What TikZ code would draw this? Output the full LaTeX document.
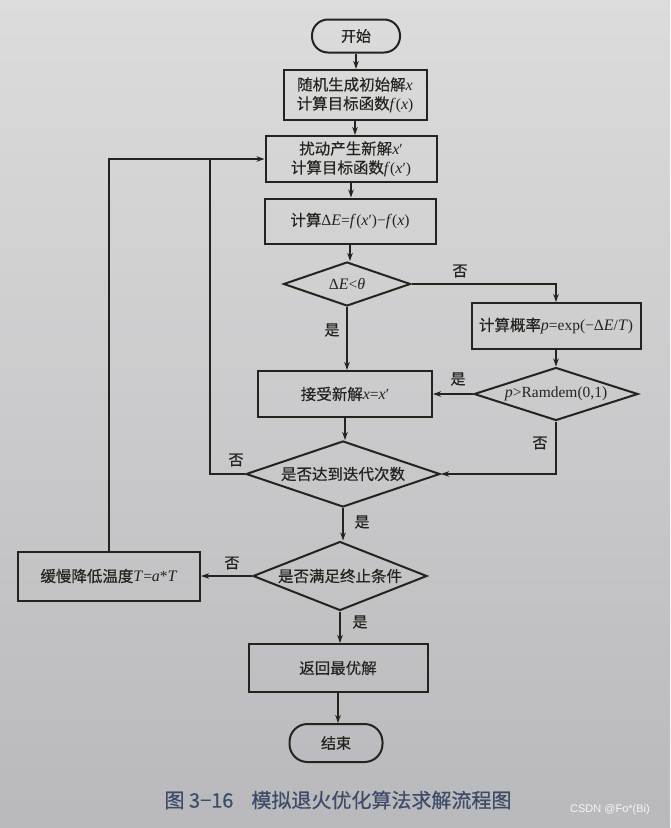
\documentclass[tikz,border=0pt]{standalone}
\usepackage{fontspec}
\setmainfont{Liberation Serif}
\newfontfamily\cjk[FakeBold=0.4]{Noto Sans CJK SC}
\newfontfamily\capfont[FakeBold=0.6]{Noto Sans CJK SC}
\newfontfamily\latsans{Liberation Sans}
\usetikzlibrary{shapes.geometric,arrows.meta}
\newcommand{\zh}[1]{{\cjk #1}}
\newcommand{\vi}[1]{{\fontsize{16}{19}\selectfont\textit{#1}}}
\definecolor{ink}{HTML}{24241F}
\definecolor{papertop}{HTML}{DCDCDC}
\definecolor{paperbot}{HTML}{B9B9BD}
\definecolor{capc}{HTML}{3E4C68}
\tikzset{
  box/.style={draw=ink, line width=2pt, rectangle, inner sep=0pt, align=center,
    text=ink, font=\fontsize{15.5}{19}\selectfont},
  dia/.style={draw=ink, line width=2pt, diamond, inner sep=0pt, align=center,
    text=ink, font=\fontsize{15.5}{19}\selectfont},
  term/.style={draw=ink, line width=2pt, rectangle, rounded corners=16pt, inner sep=0pt,
    text=ink, font=\fontsize{15}{19}\selectfont},
  conn/.style={draw=ink, line width=1.3pt, -{Stealth[length=8pt,width=5.5pt,inset=2.5pt]}},
  plain/.style={draw=ink, line width=1.3pt},
  lbl/.style={text=ink, font=\cjk\fontsize{15}{15}\selectfont}
}
\begin{document}
\begin{tikzpicture}[x=1pt,y=-1pt]
\shade[top color=papertop, bottom color=paperbot] (0,0) rectangle (670,828);
\useasboundingbox (0,0) rectangle (670,828);

\node[term, minimum width=88pt, minimum height=33pt] (start) at (356,36) {\zh{开始}};
\node[box, minimum width=143pt, minimum height=50pt] (b1) at (355,95)
  {\zh{随机生成初始解}\vi{x}\\\zh{计算目标函数}\vi{f}(\vi{x})};
\node[box, minimum width=171pt, minimum height=46pt] (b2) at (351,159)
  {\zh{扰动产生新解}\vi{x}′\\\zh{计算目标函数}\vi{f}(\vi{x}′)};
\node[box, minimum width=171pt, minimum height=45pt] (b3) at (350,221)
  {\zh{计算}Δ\vi{E}=\vi{f}(\vi{x}′)−\vi{f}(\vi{x})};
\node[dia, aspect=2.89, minimum width=127pt, minimum height=44pt] (d1) at (347,284)
  {Δ\vi{E}<\vi{θ}};
\node[box, minimum width=169pt, minimum height=46pt] (b4) at (556,326)
  {\zh{计算概率}\vi{p}=exp(−Δ\vi{E}/\vi{T})};
\node[dia, aspect=3.09, minimum width=164pt, minimum height=53pt] (d2) at (556,394)
  {\vi{p}>Ramdem(0,1)};
\node[box, minimum width=174pt, minimum height=46pt] (b5) at (345,394)
  {\zh{接受新解}\vi{x}=\vi{x}′};
\node[dia, aspect=2.94, minimum width=194pt, minimum height=66pt] (d3) at (343,474)
  {\zh{是否达到迭代次数}};
\node[dia, aspect=2.52, minimum width=174pt, minimum height=69pt] (d4) at (340,576)
  {\zh{是否满足终止条件}};
\node[box, minimum width=182pt, minimum height=49pt] (b6) at (109,576)
  {\zh{缓慢降低温度}\vi{T}=\vi{a}*\vi{T}};
\node[box, minimum width=179pt, minimum height=48pt] (b7) at (338,668)
  {\zh{返回最优解}};
\node[term, minimum width=93pt, minimum height=38pt, rounded corners=18pt] (end) at (336,743)
  {\zh{结束}};

\coordinate (j) at (210,159);

\draw[conn] (start.south) -- (start.south |- b1.north);
\draw[conn] (b1.south) -- (b1.south |- b2.north);
\draw[conn] (b2.south) -- (b2.south |- b3.north);
\draw[conn] (b3.south) -- (b3.south |- d1.north);
\draw[conn] (d1.east) -| (b4.north);
\draw[conn] (d1.south) -- (d1.south |- b5.north);
\draw[conn] (b4.south) -- (b4.south |- d2.north);
\draw[conn] (d2.west) -- (b5.east);
\draw[conn] (b5.south) -- (b5.south |- d3.north);
\draw[conn] (d2.south) |- (d3.east);
\draw[plain] (d3.west) -| (j);
\draw[conn] (b6.north) |- (b2.west);
\draw[conn] (d3.south) -- (d3.south |- d4.north);
\draw[conn] (d4.west) -- (b6.east);
\draw[conn] (d4.south) -- (d4.south |- b7.north);
\draw[conn] (b7.south) -- (b7.south |- end.north);

\node[lbl] (n1) at (460,271) {否};
\node[lbl] (y1) at (332,330) {是};
\node[lbl] (y2) at (458,379) {是};
\node[lbl] (n2) at (540,443) {否};
\node[lbl] (n3) at (236,460) {否};
\node[lbl] (y3) at (362,522) {是};
\node[lbl] (n4) at (232,563) {否};
\node[lbl] (y4) at (360,622) {是};

\node[text=capc, font=\capfont\fontsize{20}{20}\selectfont] (cap) at (338,800)
  {图 3−16\hspace{18pt}模拟退火优化算法求解流程图};
\node[text=white!92!gray, font=\latsans\fontsize{11}{11}\selectfont] (wm) at (610,810)
  {CSDN @Fo*(Bi)};
\end{tikzpicture}
\end{document}
